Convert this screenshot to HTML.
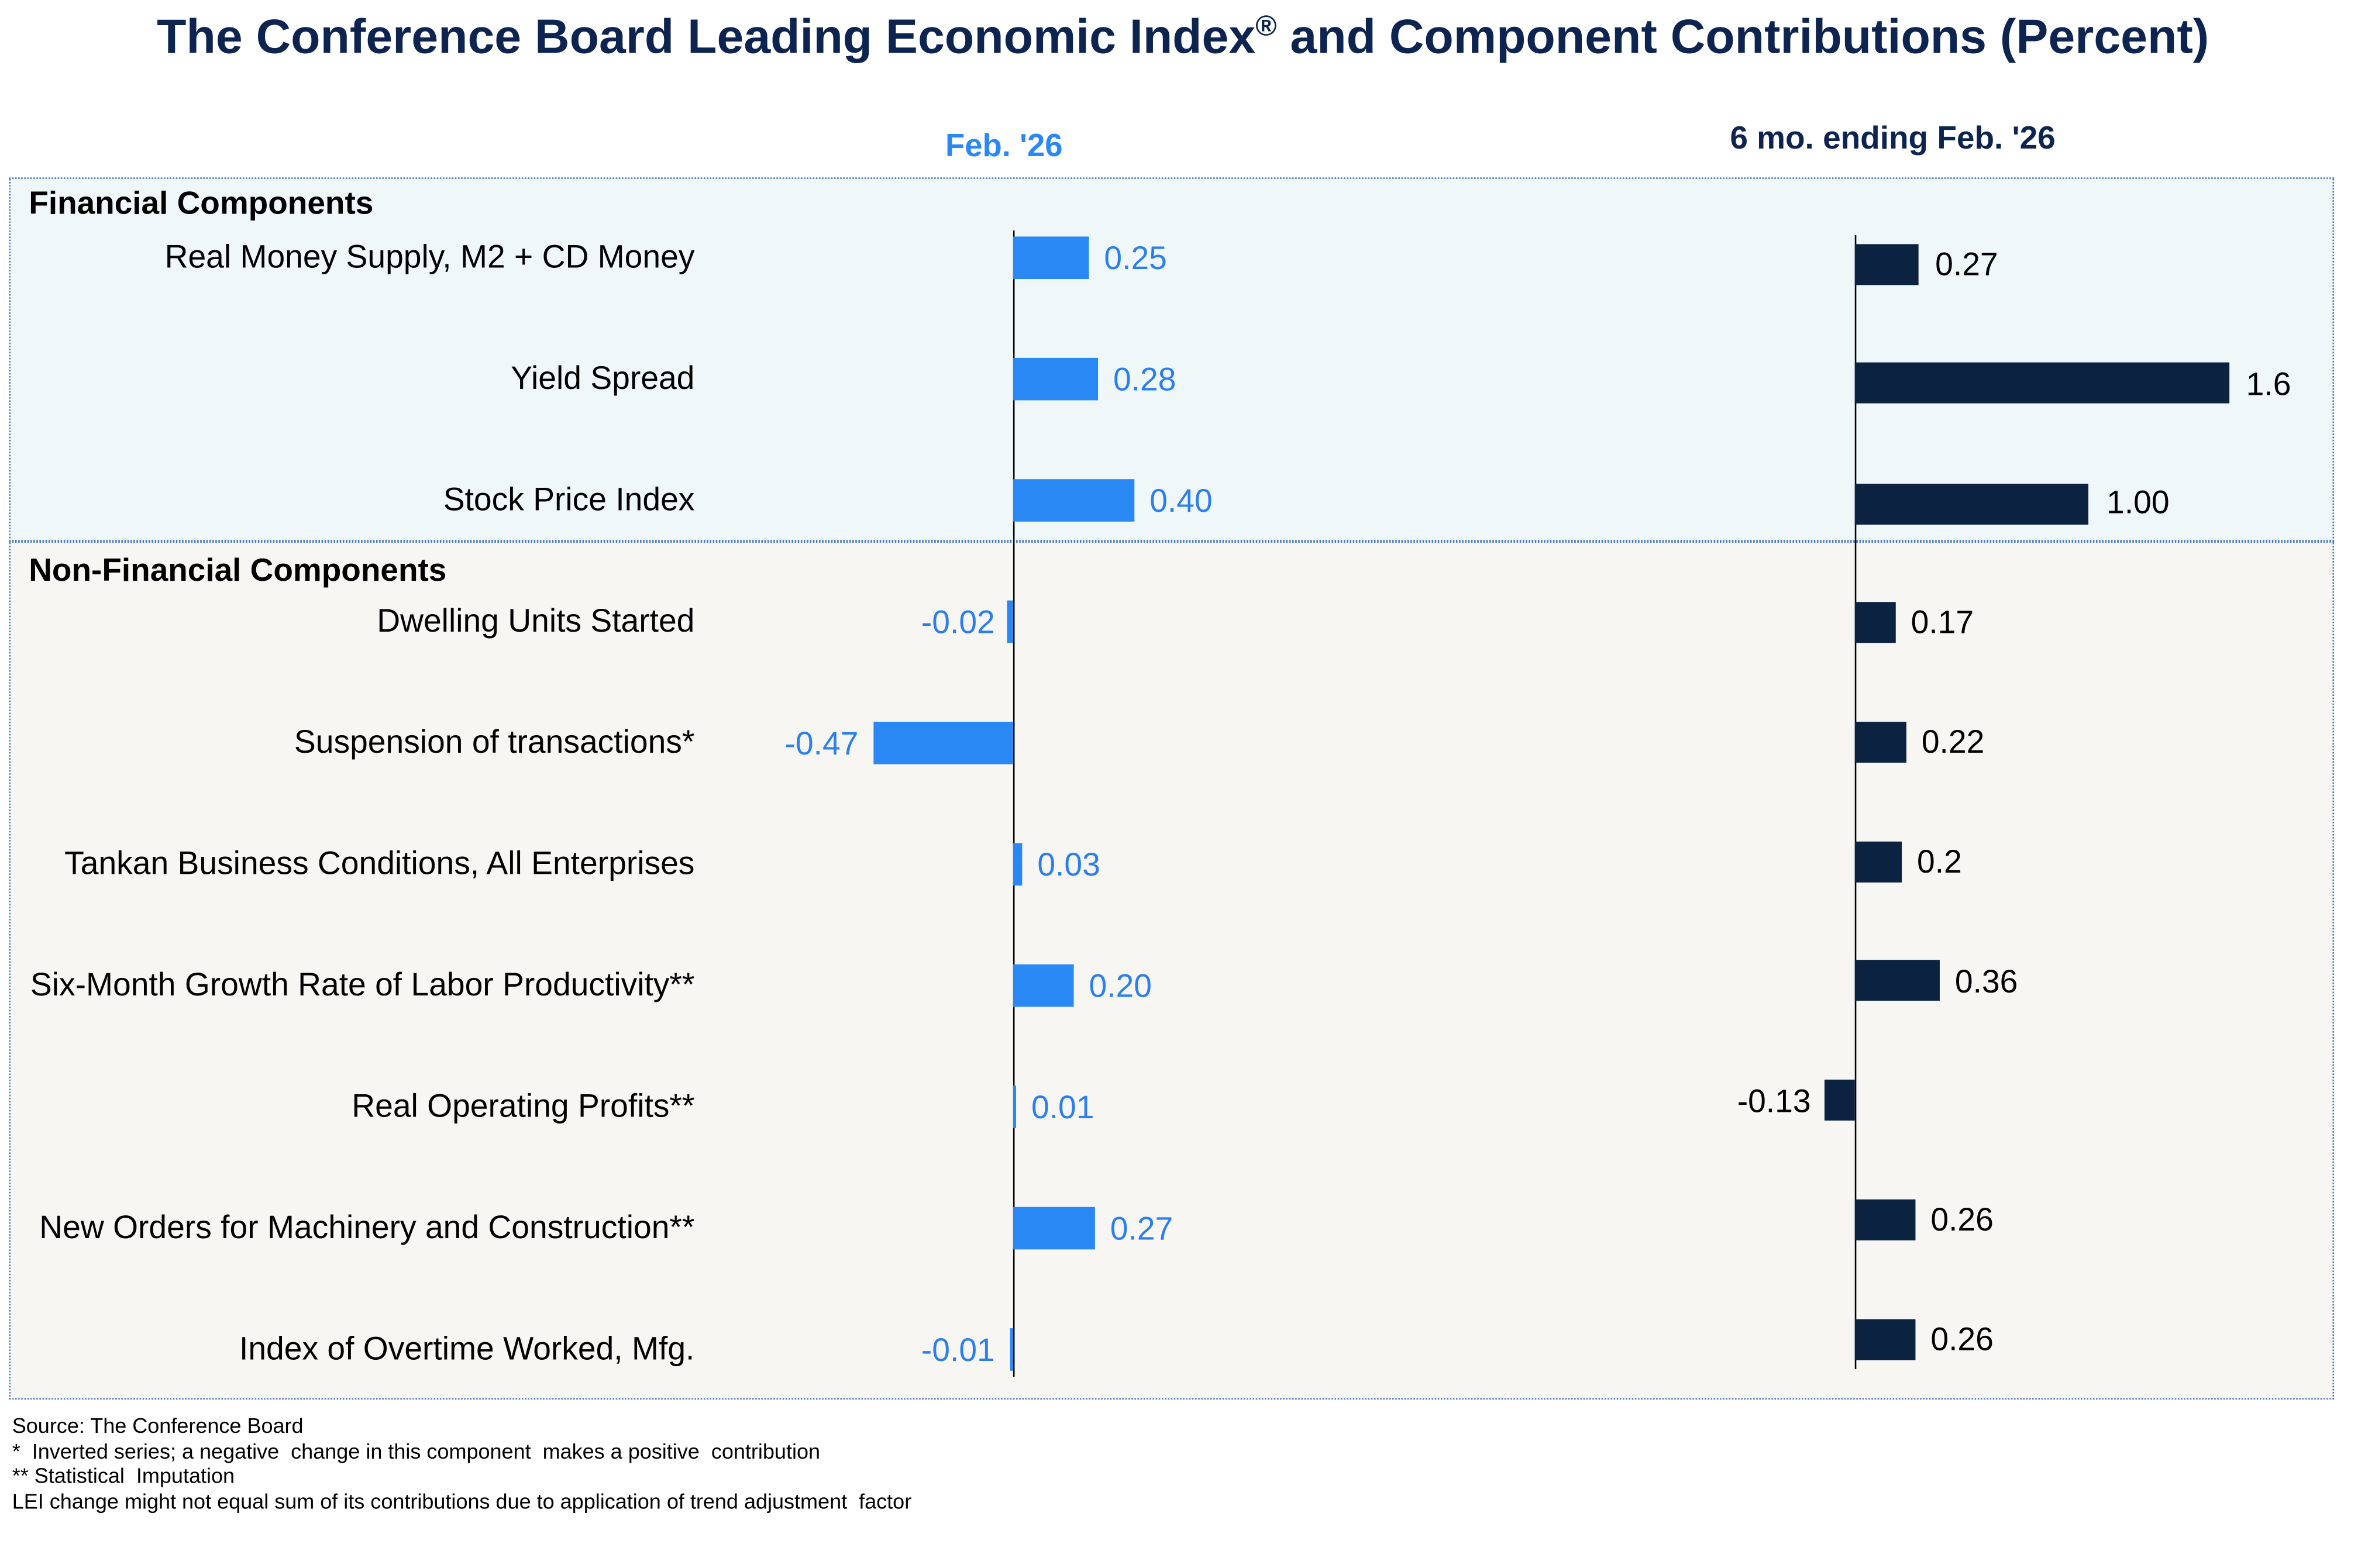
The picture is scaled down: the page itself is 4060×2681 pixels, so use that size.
<!DOCTYPE html>
<html><head><meta charset="utf-8"><style>
html,body{margin:0;padding:0;background:#fff;}
body{width:4060px;height:2680px;overflow:hidden;position:relative;font-family:"Liberation Sans",Arial,sans-serif;}
#c{position:absolute;left:0;top:0;width:1566px;height:1034px;transform:scale(2.5926);transform-origin:0 0;}
.a{position:absolute;white-space:nowrap;}
.lbl{position:absolute;right:1108px;font-size:21.3px;color:#000;transform:translateY(-50%);white-space:nowrap;}
.bl{position:absolute;background:#2a88f5;height:28px;}
.br{position:absolute;background:#0b2341;height:27px;}
.vl{position:absolute;font-size:21.3px;color:#2a7ef0;transform:translateY(-50%);white-space:nowrap;}
.vr{position:absolute;font-size:21.3px;color:#000;transform:translateY(-50%);white-space:nowrap;}
.ft{position:absolute;left:8px;font-size:13.9px;color:#000;white-space:nowrap;}
</style></head><body><div id="c">
<div class="a" style="left:0;width:1560px;top:6px;text-align:center;font-weight:bold;font-size:31.8px;color:#0d2350;">The Conference Board Leading Economic Index<sup style="font-size:19px">®</sup> and Component Contributions (Percent)</div>
<div class="a" style="left:562px;width:200px;top:85px;text-align:center;font-weight:bold;font-size:21px;color:#2a88f5;">Feb. '26</div>
<div class="a" style="left:1098px;width:300px;top:80px;text-align:center;font-weight:bold;font-size:21.2px;color:#0d2350;">6 mo. ending Feb. '26</div>

<div class="a" style="left:6px;top:117px;width:1533px;height:240px;background:#eff7f9;border:1px dotted #4a7ac0;box-sizing:border-box;"></div>
<div class="a" style="left:6px;top:357px;width:1533px;height:566px;background:#f7f6f3;border:1px dotted #4a7ac0;border-top:none;box-sizing:border-box;"></div>
<div class="a" style="left:6px;top:357px;width:1533px;border-top:1px dotted #4a7ac0;"></div>

<div class="a" style="left:19px;top:123px;font-weight:bold;font-size:21.2px;">Financial Components</div>
<div class="a" style="left:19px;top:365px;font-weight:bold;font-size:21.2px;">Non-Financial Components</div>

<div class="lbl" style="top:170px">Real Money Supply, M2 + CD Money</div>
<div class="lbl" style="top:250px">Yield Spread</div>
<div class="lbl" style="top:330px">Stock Price Index</div>
<div class="lbl" style="top:410px">Dwelling Units Started</div>
<div class="lbl" style="top:490px">Suspension of transactions*</div>
<div class="lbl" style="top:570px">Tankan Business Conditions, All Enterprises</div>
<div class="lbl" style="top:650px">Six-Month Growth Rate of Labor Productivity**</div>
<div class="lbl" style="top:730px">Real Operating Profits**</div>
<div class="lbl" style="top:810px">New Orders for Machinery and Construction**</div>
<div class="lbl" style="top:890px">Index of Overtime Worked, Mfg.</div>

<!-- left axis -->
<div class="a" style="left:668px;top:152px;width:1px;height:756px;background:#000;"></div>
<div class="bl" style="left:668px;top:156px;width:50px"></div><div class="vl" style="left:728px;top:171px">0.25</div>
<div class="bl" style="left:668px;top:236px;width:56px"></div><div class="vl" style="left:734px;top:251px">0.28</div>
<div class="bl" style="left:668px;top:316px;width:80px"></div><div class="vl" style="left:758px;top:331px">0.40</div>
<div class="bl" style="left:664px;top:396px;width:4px"></div><div class="vl" style="right:910px;top:411px">-0.02</div>
<div class="bl" style="left:576px;top:476px;width:92px"></div><div class="vl" style="right:1000px;top:491px">-0.47</div>
<div class="bl" style="left:668px;top:556px;width:6px"></div><div class="vl" style="left:684px;top:571px">0.03</div>
<div class="bl" style="left:668px;top:636px;width:40px"></div><div class="vl" style="left:718px;top:651px">0.20</div>
<div class="bl" style="left:668px;top:716px;width:2px"></div><div class="vl" style="left:680px;top:731px">0.01</div>
<div class="bl" style="left:668px;top:796px;width:54px"></div><div class="vl" style="left:732px;top:811px">0.27</div>
<div class="bl" style="left:666px;top:876px;width:2px"></div><div class="vl" style="right:910px;top:891px">-0.01</div>

<!-- right axis -->
<div class="a" style="left:1223px;top:155px;width:1px;height:748px;background:#000;"></div>
<div class="br" style="left:1223px;top:161px;width:42px"></div><div class="vr" style="left:1276px;top:175px">0.27</div>
<div class="br" style="left:1223px;top:239px;width:247px"></div><div class="vr" style="left:1481px;top:254px">1.6</div>
<div class="br" style="left:1223px;top:319px;width:154px"></div><div class="vr" style="left:1389px;top:332px">1.00</div>
<div class="br" style="left:1223px;top:397px;width:27px"></div><div class="vr" style="left:1260px;top:411px">0.17</div>
<div class="br" style="left:1223px;top:476px;width:34px"></div><div class="vr" style="left:1267px;top:490px">0.22</div>
<div class="br" style="left:1223px;top:555px;width:31px"></div><div class="vr" style="left:1264px;top:569px">0.2</div>
<div class="br" style="left:1223px;top:633px;width:56px"></div><div class="vr" style="left:1289px;top:648px">0.36</div>
<div class="br" style="left:1203px;top:712px;width:20px"></div><div class="vr" style="right:372px;top:727px">-0.13</div>
<div class="br" style="left:1223px;top:791px;width:40px"></div><div class="vr" style="left:1273px;top:805px">0.26</div>
<div class="br" style="left:1223px;top:870px;width:40px"></div><div class="vr" style="left:1273px;top:884px">0.26</div>

<div class="ft" style="top:932px">Source: The Conference Board</div>
<div class="ft" style="top:949px">*&nbsp; Inverted series; a negative&nbsp; change in this component&nbsp; makes a positive&nbsp; contribution</div>
<div class="ft" style="top:965px">** Statistical&nbsp; Imputation</div>
<div class="ft" style="top:982px">LEI change might not equal sum of its contributions due to application of trend adjustment&nbsp; factor</div>
</div></body></html>
